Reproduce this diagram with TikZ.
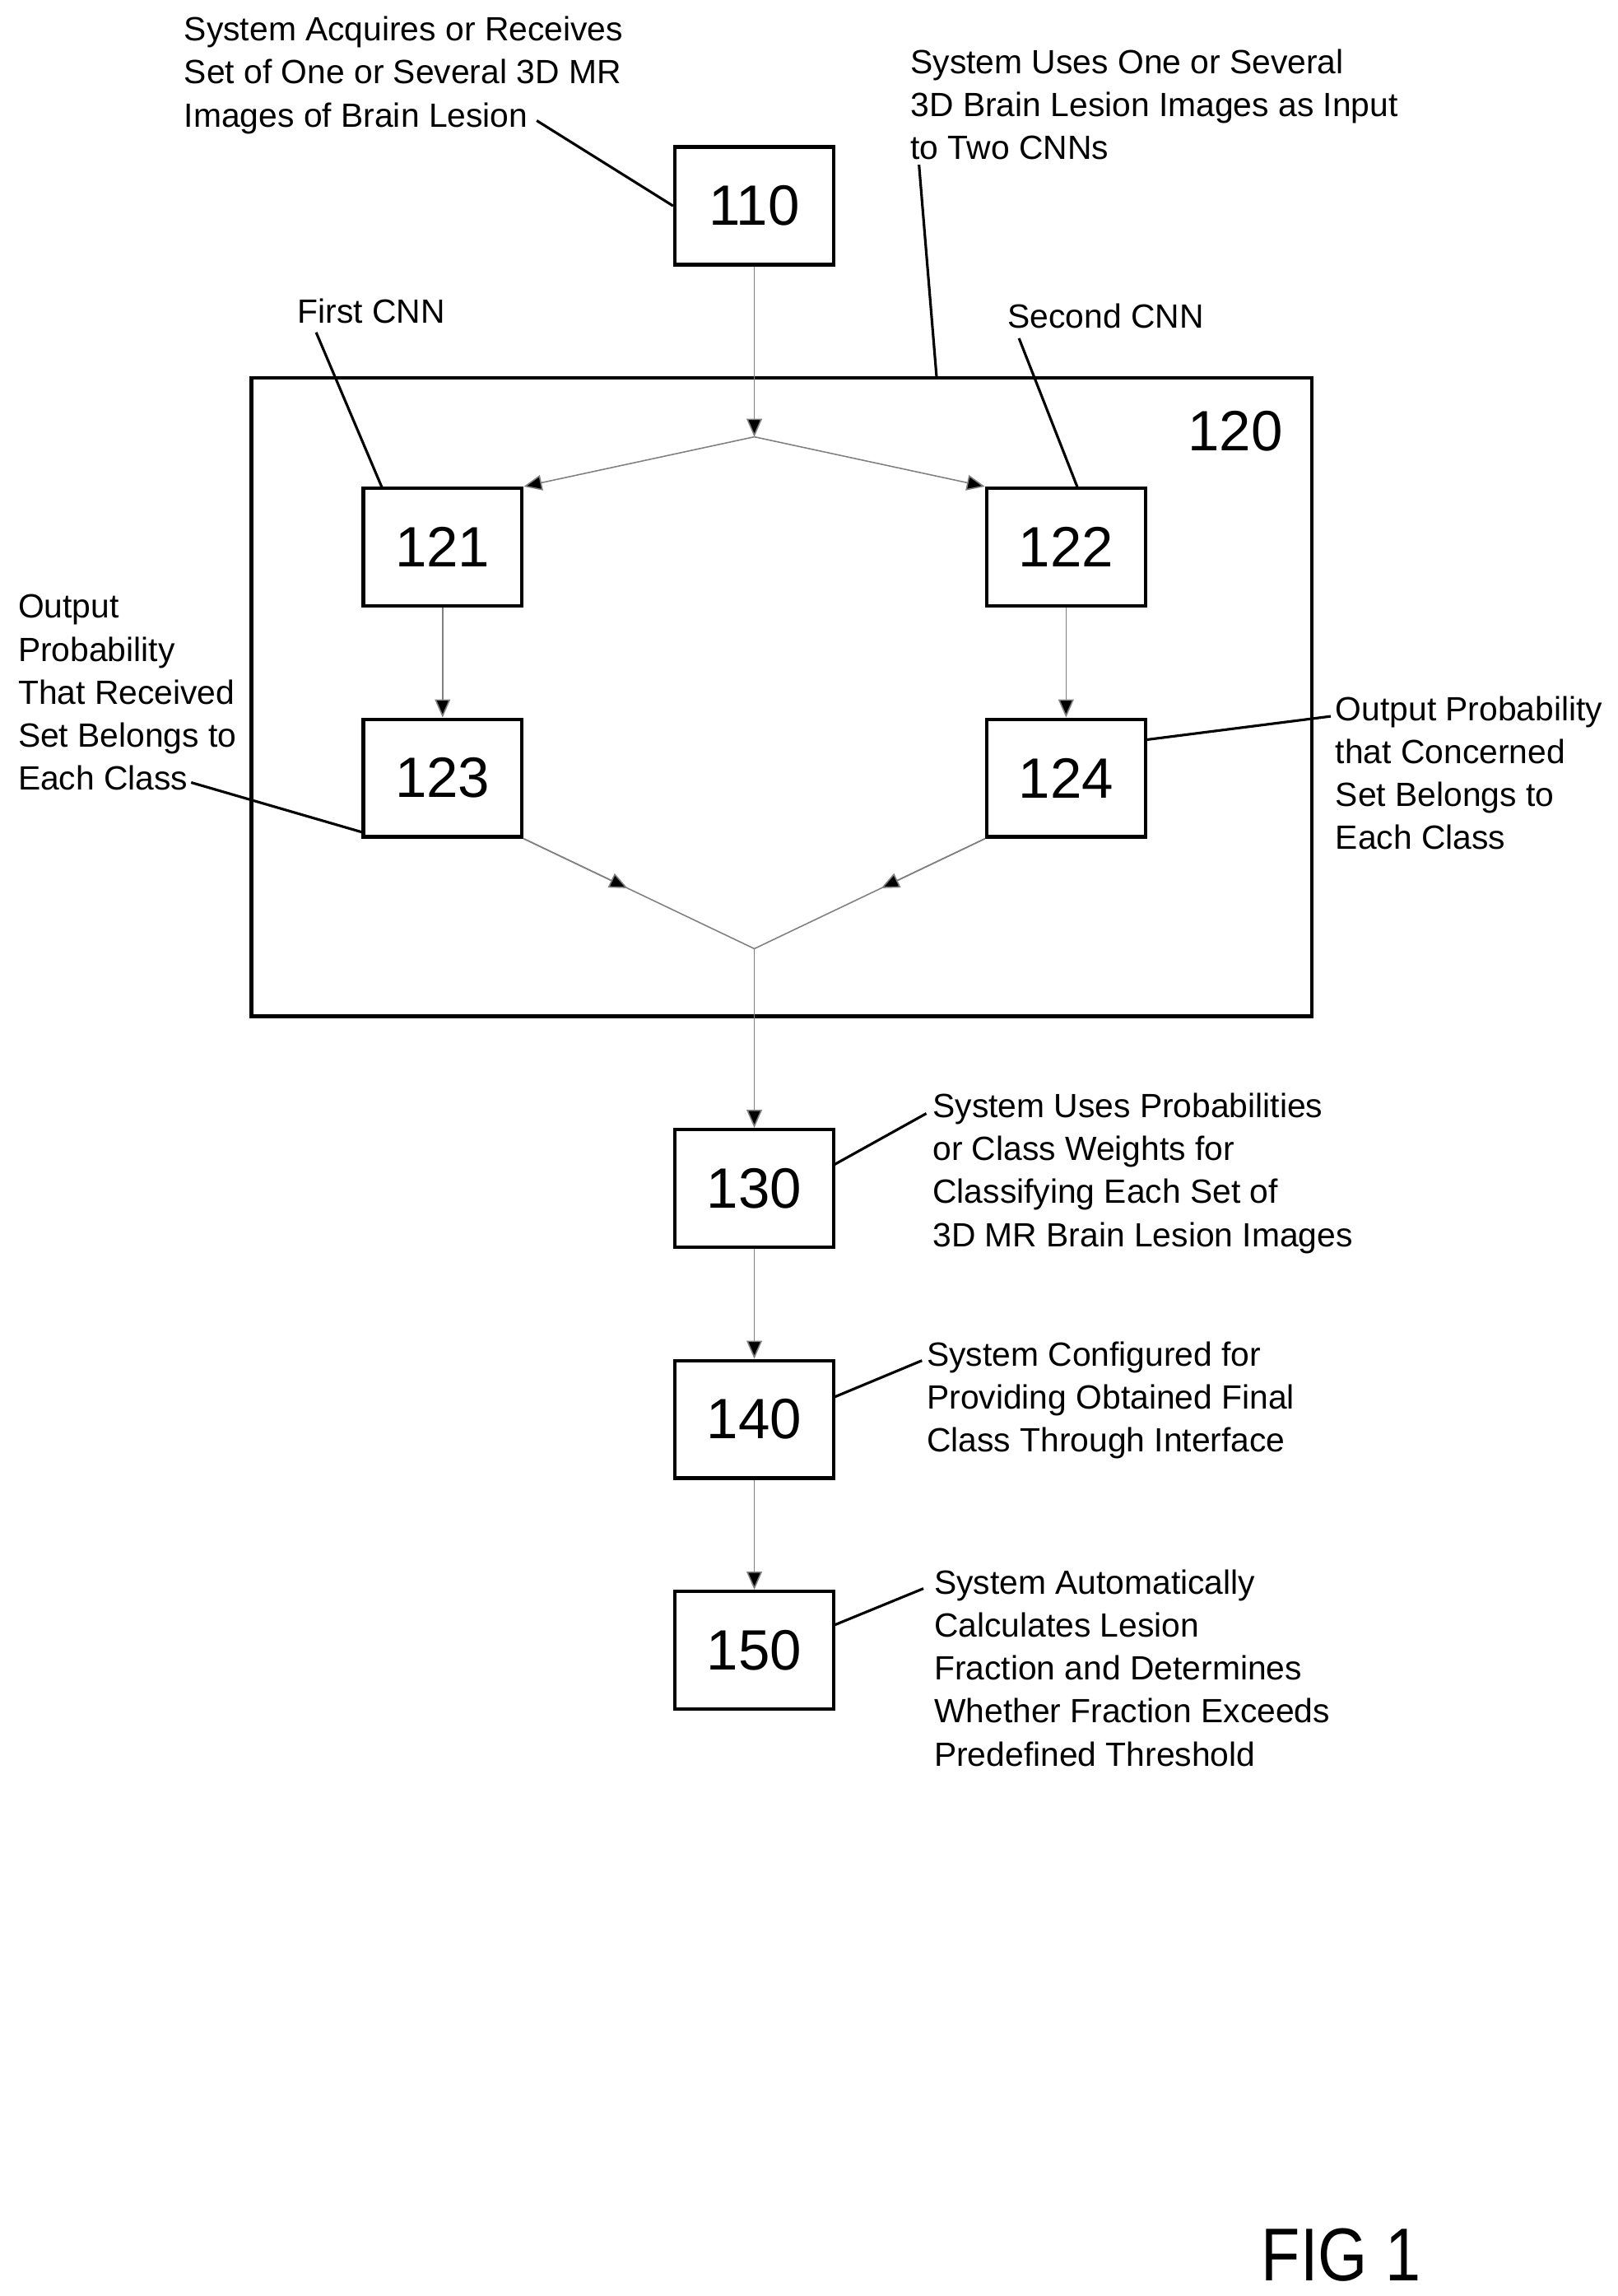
\documentclass[tikz,border=0pt]{standalone}
\usepackage{fontspec}
\setmainfont{Liberation Sans}
\usetikzlibrary{arrows.meta,calc}

\begin{document}
\begin{tikzpicture}[x=0.02cm, y=-0.02cm,
  stepbox/.style = {draw, line width=1.4pt, minimum width=2.16cm, minimum height=1.6cm,
                    font=\fontsize{22}{24}\selectfont},
  note/.style    = {anchor=north west, align=left, inner sep=0pt,
                    font=\fontsize{13}{16.6}\selectfont},
  flow/.style    = {draw=gray, line width=0.5pt, -{Triangle[length=7pt,width=6pt,fill=black]}},
  lead/.style    = {draw, line width=1pt}]
  \useasboundingbox (0,0) rectangle (1100,1561);
  % outer box
  \draw [line width=1.4pt] (171,257) rectangle (892,691);
  \coordinate (big) at (637,257);
  \node [font=\fontsize{22}{24}\selectfont] at (840,293) {120};

  \node [stepbox] (s110) at (513,140) {110};
  \node [stepbox] (s121) at (301,372) {121};
  \node [stepbox] (s122) at (725,372) {122};
  \node [stepbox] (s123) at (301,529) {123};
  \node [stepbox] (s124) at (725,529) {124};
  \node [stepbox] (s130) at (513,808) {130};
  \node [stepbox] (s140) at (513,965) {140};
  \node [stepbox] (s150) at (513,1122) {150};

  \coordinate (split) at (513,297);
  \coordinate (merge) at (513,645);

  % flow
  \draw [flow] (s110) -- (split);
  \draw [flow] (split) -- (s121.north east);
  \draw [flow] (split) -- (s122.north west);
  \draw [flow] (s121) -- (s123);
  \draw [flow] (s122) -- (s124);
  \draw [draw=gray, line width=0.5pt] (s123.south east) -- (merge) -- (s124.south west);
  \draw [flow] (s123.south east) -- ($(s123.south east)!0.45!(merge)$);
  \draw [flow] (s124.south west) -- ($(s124.south west)!0.45!(merge)$);
  \draw [flow] (merge) -- (s130);
  \draw [flow] (s130) -- (s140);
  \draw [flow] (s140) -- (s150);

  % notes
  \node [note] (n110) at (125,11) {System Acquires or Receives\\Set of One or Several 3D MR\\Images of Brain Lesion};
  \node [note] (n120) at (619,33) {System Uses One or Several\\3D Brain Lesion Images as Input\\to Two CNNs};
  \node [note] (n121) at (202,203) {First CNN};
  \node [note] (n122) at (685,206) {Second CNN};
  \node [note] (n123) at (12,404) {Output\\Probability\\That Received\\Set Belongs to\\Each Class};
  \node [note] (n124) at (908,473) {Output Probability\\that Concerned\\Set Belongs to\\Each Class};
  \node [note] (n130) at (634,743) {System Uses Probabilities\\or Class Weights for\\Classifying Each Set of\\3D MR Brain Lesion Images};
  \node [note] (n140) at (630,912) {System Configured for\\Providing Obtained Final\\Class Through Interface};
  \node [note] (n150) at (635,1067) {System Automatically\\Calculates Lesion\\Fraction and Determines\\Whether Fraction Exceeds\\Predefined Threshold};
  \node [font=\fontsize{29}{31}\selectfont, xscale=0.85] (fig) at (912,1533) {FIG 1};

  % leaders
  \coordinate (c110) at (365,82);   \draw [lead] (c110) -- (s110.west);
  \coordinate (c120) at (625,112);  \draw [lead] (c120) -- (big);
  \coordinate (c121) at (215,226);  \draw [lead] (c121) -- (260,332);
  \coordinate (c122) at (693,230);  \draw [lead] (c122) -- (733,332);
  \coordinate (c123) at (130,532);  \draw [lead] (c123) -- (247,566);
  \coordinate (c124) at (905,487);  \draw [lead] (c124) -- (779,503);
  \coordinate (c130) at (630,757);  \draw [lead] (c130) -- (567,792);
  \coordinate (c140) at (627,925);  \draw [lead] (c140) -- (567,950);
  \coordinate (c150) at (628,1080); \draw [lead] (c150) -- (567,1105);
\end{tikzpicture}
\end{document}
